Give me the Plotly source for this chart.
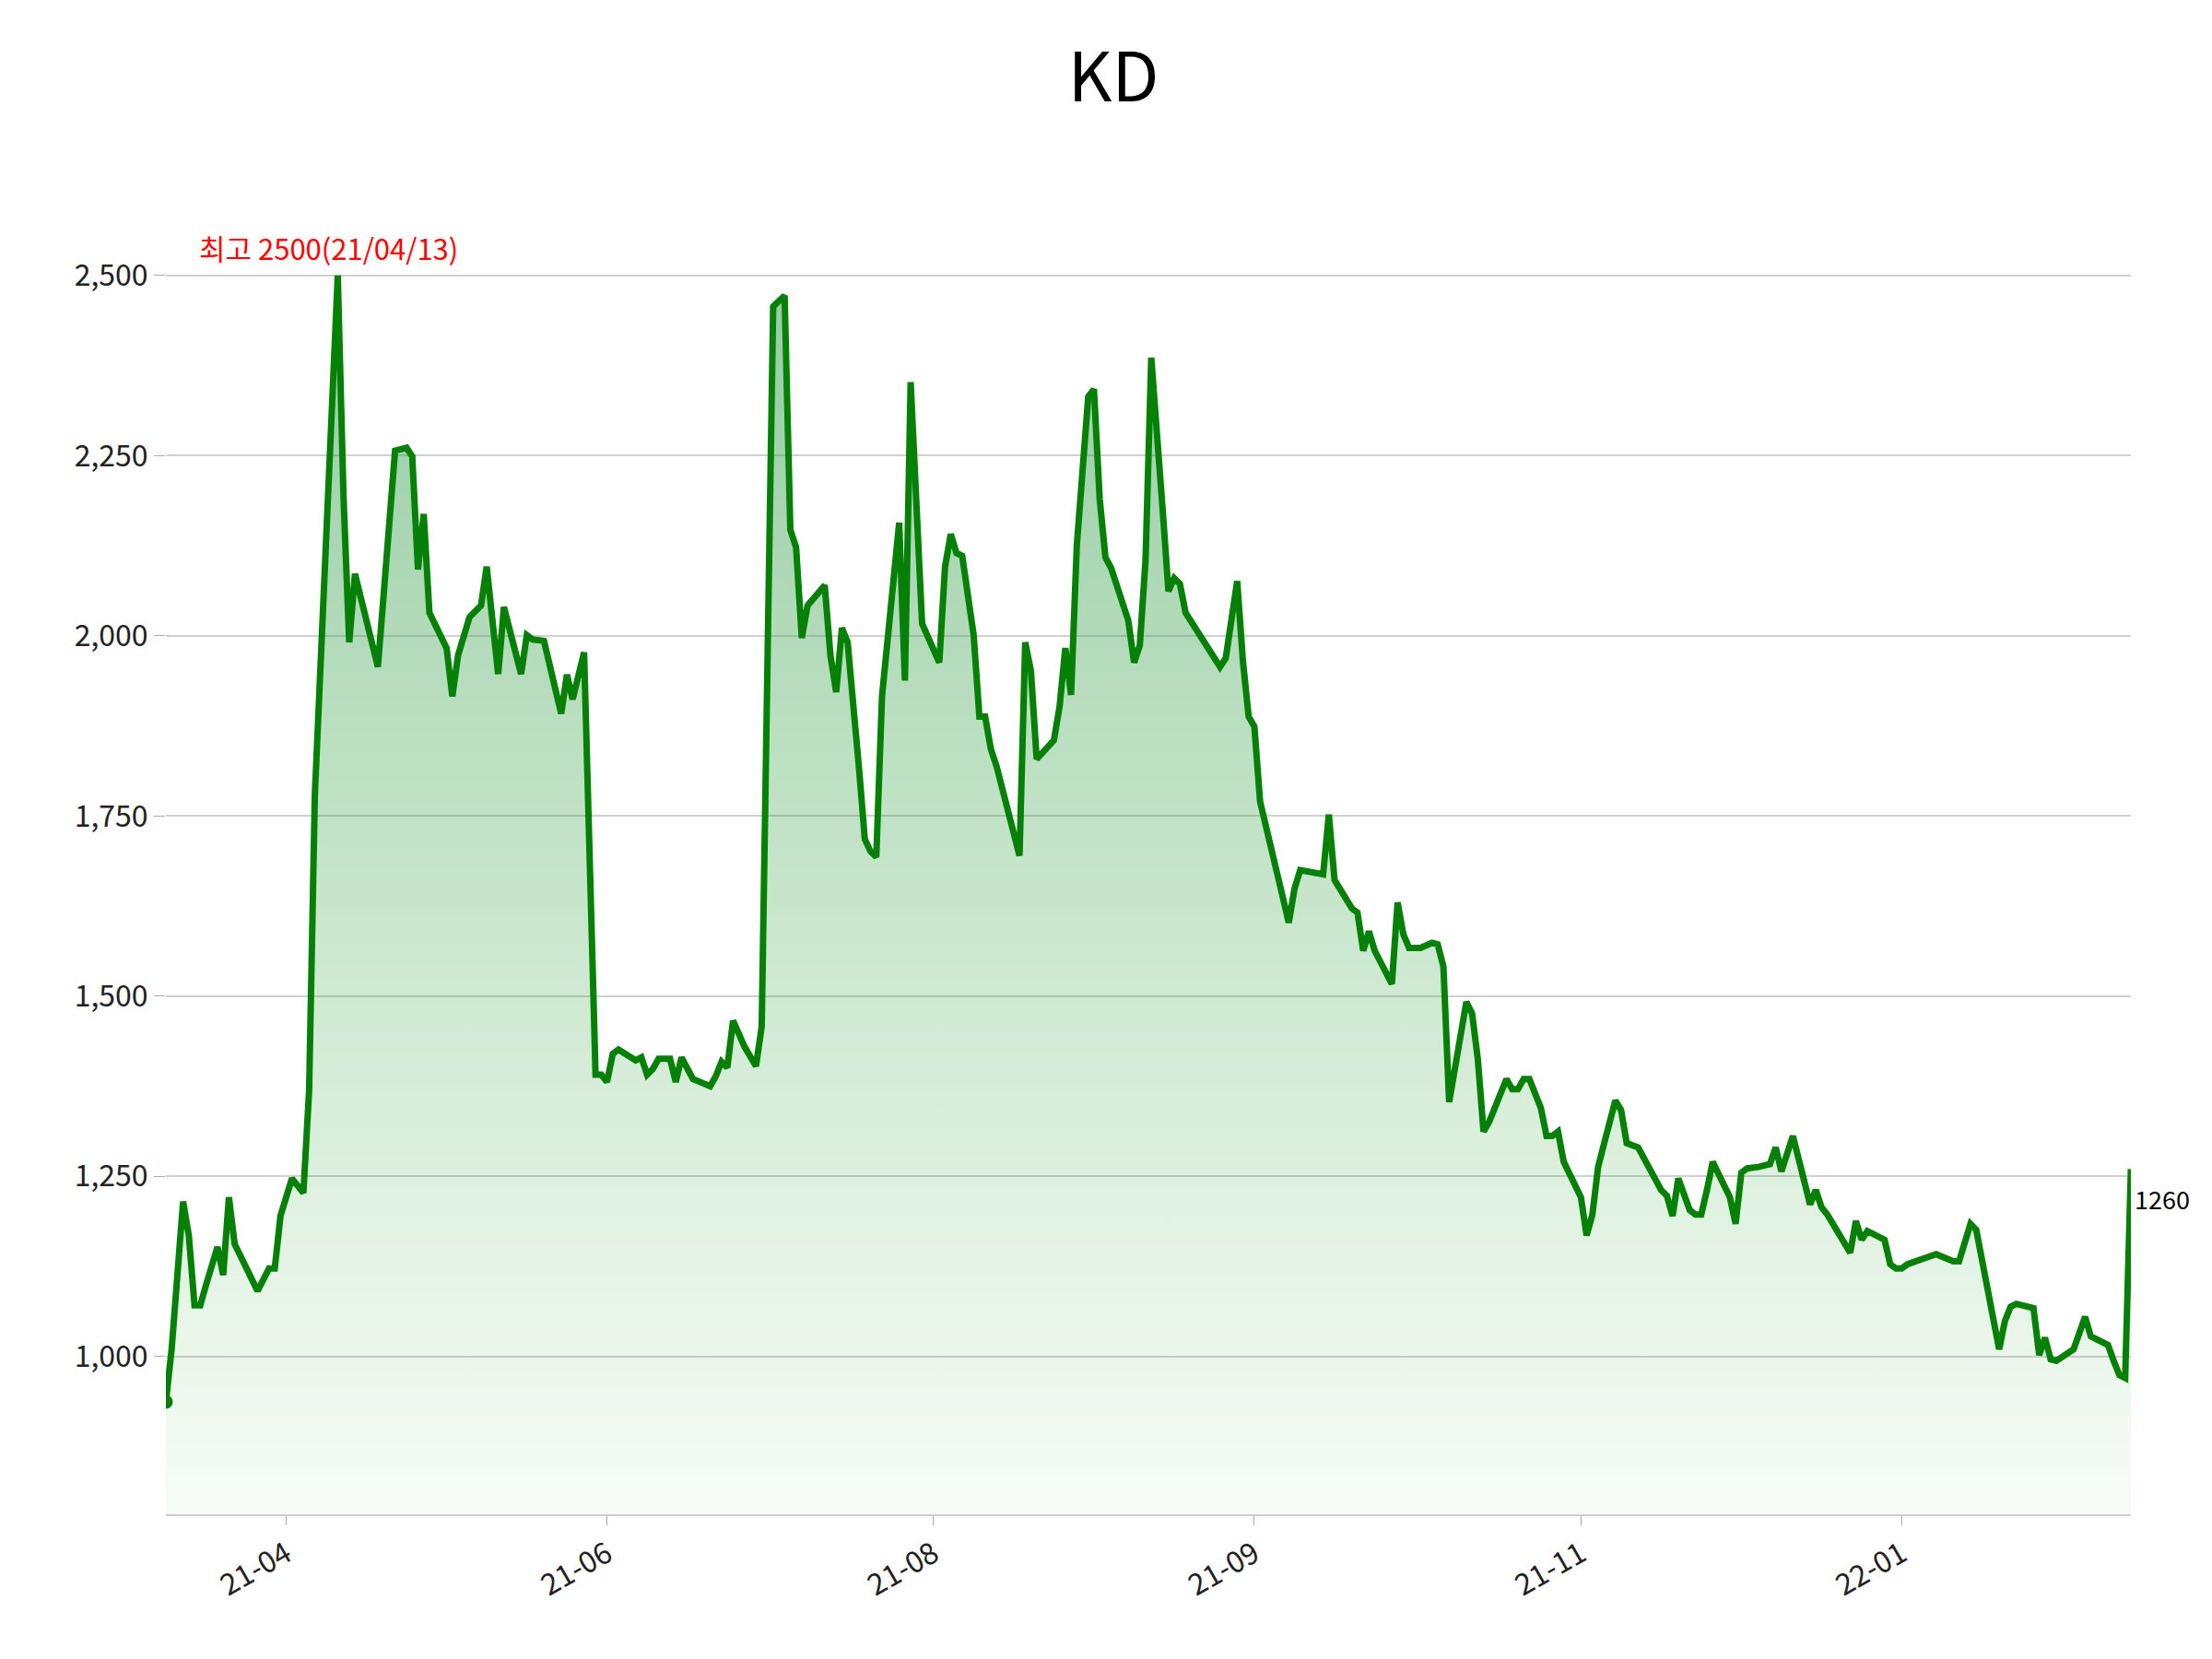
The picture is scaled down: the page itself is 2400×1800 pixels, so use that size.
import plotly.graph_objects as go

# trading-day index and closing price
day = [0, 1, 3, 4, 5, 6, 7, 9, 10, 11, 12, 16, 18, 19, 20, 22, 24, 25, 26, 30,
       31, 32, 33, 37, 38, 40, 42, 43, 44, 45, 46, 49, 50, 51, 53, 55, 56, 58, 59, 62,
       63, 64, 66, 69, 70, 71, 73, 75, 76, 77, 78, 79, 82, 83, 84, 85, 86, 88, 89, 90,
       92, 95, 96, 97, 98, 99, 101, 103, 104, 106, 108, 109, 110, 111, 112, 115, 116, 117, 118, 119,
       121, 122, 123, 124, 125, 128, 129, 130, 132, 135, 136, 137, 138, 139, 141, 142, 143, 144, 145, 149,
       150, 151, 152, 155, 156, 157, 158, 159, 161, 162, 163, 164, 165, 168, 169, 170, 171, 172, 174, 175,
       176, 177, 178, 184, 185, 187, 188, 189, 190, 191, 195, 196, 197, 198, 202, 203, 204, 207, 208, 209,
       210, 211, 214, 215, 216, 217, 219, 221, 222, 223, 224, 227, 228, 229, 230, 231, 234, 235, 236, 237,
       238, 240, 241, 242, 243, 244, 247, 248, 249, 250, 251, 253, 254, 255, 257, 260, 261, 262, 263, 264,
       266, 267, 268, 269, 270, 273, 274, 275, 276, 278, 280, 281, 282, 284, 286, 287, 288, 289, 290, 293,
       294, 295, 296, 297, 300, 301, 302, 303, 304, 309, 312, 313, 315, 316, 317, 319, 320, 321, 322, 323,
       326, 327, 328, 329, 330, 333, 334, 335, 336, 339, 340, 341, 342, 343]
price = [937, 1010, 1215, 1168, 1071, 1071, 1099, 1152, 1113, 1221, 1156, 1091, 1122, 1122, 1195, 1247, 1227, 1369, 1780, 2500,
         2194, 1991, 2086, 1957, 2056, 2257, 2261, 2249, 2092, 2169, 2032, 1983, 1916, 1973, 2026, 2042, 2096, 1947, 2040, 1947,
         2001, 1995, 1993, 1892, 1946, 1912, 1977, 1391, 1391, 1381, 1420, 1426, 1411, 1415, 1391, 1399, 1413, 1413, 1381, 1415,
         1385, 1375, 1389, 1409, 1401, 1466, 1430, 1403, 1458, 2457, 2472, 2147, 2123, 1997, 2042, 2070, 1973, 1922, 2011, 1991,
         1815, 1718, 1701, 1693, 1916, 2157, 1938, 2352, 2017, 1963, 2096, 2141, 2115, 2111, 2001, 1888, 1888, 1843, 1819, 1695,
         1991, 1951, 1829, 1855, 1902, 1983, 1918, 2125, 2332, 2342, 2190, 2109, 2094, 2021, 1963, 1987, 2105, 2386, 2174, 2062,
         2080, 2072, 2032, 1957, 1969, 2076, 1965, 1888, 1874, 1770, 1636, 1602, 1649, 1675, 1669, 1752, 1661, 1622, 1616, 1563,
         1590, 1563, 1517, 1630, 1586, 1567, 1567, 1574, 1572, 1541, 1353, 1492, 1476, 1413, 1312, 1326, 1385, 1371, 1371, 1385,
         1385, 1345, 1306, 1306, 1312, 1270, 1221, 1168, 1197, 1263, 1294, 1355, 1342, 1296, 1290, 1249, 1231, 1223, 1195, 1247,
         1203, 1197, 1197, 1231, 1270, 1221, 1184, 1255, 1261, 1263, 1267, 1290, 1257, 1306, 1247, 1211, 1231, 1207, 1197, 1154,
         1144, 1188, 1162, 1174, 1162, 1128, 1122, 1122, 1128, 1142, 1132, 1132, 1184, 1176, 1132, 1049, 1010, 1049, 1069, 1073,
         1067, 1002, 1026, 996, 994, 1010, 1030, 1055, 1028, 1016, 994, 974, 970, 1260]

tick_days = [21, 77, 134, 190, 247, 303]
tick_labels = ["21-04", "21-06", "21-08", "21-09", "21-11", "22-01"]

FONT = "Noto Sans CJK KR"
Y_MIN, Y_MAX = 781, 2560
imax = price.index(max(price))

fig = go.Figure()
fig.add_trace(go.Scatter(
    x=day, y=price, mode="lines", line=dict(color="#068006", width=7),
    fill="tozeroy",
    fillgradient=dict(type="vertical", start=Y_MIN, stop=max(price),
                      colorscale=[[0, "rgba(60,170,60,0.04)"], [1, "rgba(40,150,70,0.5)"]]),
    showlegend=False, hoverinfo="x+y"))
fig.add_trace(go.Scatter(x=[day[0]], y=[price[0]], mode="markers",
                         marker=dict(color="#068006", size=15), showlegend=False))

fig.add_annotation(x=day[imax], y=price[imax], text=f"최고 {price[imax]}(21/04/13)",
                   showarrow=False, yshift=30, xshift=-10, font=dict(color="red", size=31, family=FONT))
fig.add_annotation(x=day[-1], y=price[-1], text=str(price[-1]), showarrow=False,
                   xanchor="left", yshift=-32, xshift=2, font=dict(color="black", size=27, family=FONT))

fig.update_layout(
    width=2400, height=1800, plot_bgcolor="white", paper_bgcolor="white",
    font=dict(family=FONT, size=32, color="#222"),
    title=dict(text="KD", x=0.5, xanchor="center", y=0.972, font=dict(size=74, color="black")),
    margin=dict(l=172, r=96, t=244, b=165),
)
fig.update_xaxes(range=[0, 343], tickvals=tick_days, ticktext=tick_labels, tickangle=-30,
                 showgrid=False, showline=True, linecolor="#cccccc", linewidth=2,
                 ticks="outside", tickcolor="#aaaaaa", ticklen=10, zeroline=False)
fig.update_yaxes(range=[Y_MIN, Y_MAX], tickvals=[1000, 1250, 1500, 1750, 2000, 2250, 2500],
                 tickformat=",", showgrid=True, gridcolor="#d0d0d0", gridwidth=2,
                 ticks="outside", tickcolor="#aaaaaa", ticklen=12, zeroline=False, showline=False)

fig.write_html("out.html")
